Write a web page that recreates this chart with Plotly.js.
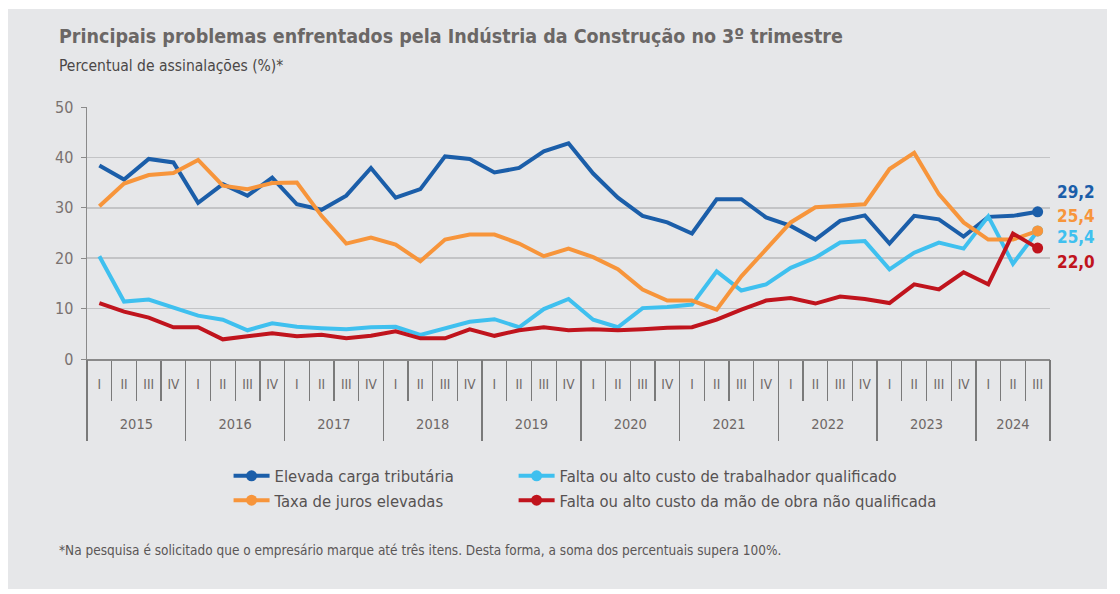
<!DOCTYPE html>
<html>
<head>
<meta charset="utf-8">
<script src="https://cdn.plot.ly/plotly-3.0.1.min.js"></script>
<style>
  html, body { margin: 0; padding: 0; background: #ffffff; width: 1120px; height: 594px; overflow: hidden; }
  #chart { position: absolute; left: 8px; top: 9px; width: 1099px; height: 580px; }
</style>
</head>
<body>
<div id="chart"></div>
<script>
// ---- data ----
const years = ['2015','2016','2017','2018','2019','2020','2021','2022','2023','2024'];
const quarters = ['I','II','III','IV'];
const nPoints = 39;

const seriesNames = [
  'Elevada carga tributária',
  'Falta ou alto custo de trabalhador qualificado',
  'Taxa de juros elevadas',
  'Falta ou alto custo da mão de obra não qualificada'
];

const cargaTributaria = [38.4, 35.6, 39.7, 39.0, 31.0, 34.7, 32.4, 36.0, 30.7, 29.6,
  32.4, 37.9, 32.0, 33.7, 40.2, 39.7, 37.0, 37.9, 41.2, 42.8,
  36.8, 32.0, 28.4, 27.1, 24.9, 31.7, 31.7, 28.1, 26.4, 23.7,
  27.4, 28.5, 22.9, 28.4, 27.7, 24.3, 28.2, 28.4, 29.2];

const trabalhadorQualificado = [20.4, 11.4, 11.8, 10.1, 8.6, 7.8, 5.7, 7.1, 6.4, 6.1,
  5.9, 6.3, 6.4, 4.8, 6.1, 7.4, 7.9, 6.3, 9.9, 11.9,
  7.8, 6.3, 10.1, 10.3, 10.8, 17.4, 13.6, 14.8, 18.1, 20.1,
  23.1, 23.4, 17.8, 21.1, 23.1, 21.9, 28.3, 18.9, 25.4];

const jurosElevados = [30.3, 34.8, 36.5, 36.9, 39.5, 34.4, 33.7, 34.9, 35.0, 28.4,
  22.9, 24.1, 22.7, 19.4, 23.7, 24.7, 24.7, 22.9, 20.4, 21.9,
  20.2, 17.8, 13.8, 11.6, 11.6, 9.8, 16.4, 21.7, 27.1, 30.1,
  30.4, 30.7, 37.7, 40.9, 32.7, 27.1, 23.7, 23.7, 25.4];

const maoDeObraNaoQualificada = [11.1, 9.4, 8.2, 6.3, 6.3, 3.9, 4.5, 5.1, 4.5, 4.8,
  4.1, 4.6, 5.5, 4.1, 4.1, 5.9, 4.6, 5.7, 6.3, 5.7,
  5.9, 5.7, 5.9, 6.2, 6.3, 7.8, 9.8, 11.6, 12.1, 11.0,
  12.4, 11.9, 11.1, 14.8, 13.8, 17.2, 14.8, 24.9, 22.0];

const seriesValues = [cargaTributaria, trabalhadorQualificado, jurosElevados, maoDeObraNaoQualificada];
const seriesColors = ['#1b5ea9', '#3fc0ef', '#f7953b', '#c0141d'];
const seriesLegend = ['legend', 'legend2', 'legend', 'legend2'];
const labelShift = [20, -6, 15, -14];

// ---- build categories ----
const xYear = [], xQuarter = [], xCat = [];
for (const yr of years) {
  for (const q of quarters) {
    if (xYear.length < nPoints) { xYear.push(yr); xQuarter.push(q); xCat.push(yr + ' ' + q); }
  }
}
const last = nPoints - 1;
const fmt = v => v.toFixed(1).replace('.', ',');

// year label positions (category index centres) and year boundaries
const yearCenters = [], yearBounds = [];
years.forEach(yr => {
  const idx = xYear.map((y, i) => y === yr ? i : -1).filter(i => i >= 0);
  if (idx.length) {
    yearCenters.push((idx[0] + idx[idx.length - 1]) / 2);
    yearBounds.push(idx[0] - 0.5);
  }
});
yearBounds.push(last + 0.5);

const FONT = '"DejaVu Sans Condensed", "Liberation Sans Narrow", sans-serif';

const traces = [];
const annotations = [];
seriesValues.forEach((vals, k) => {
  traces.push({
    type: 'scatter', mode: 'lines',
    x: xCat, y: vals,
    line: { color: seriesColors[k], width: 4 },
    showlegend: false, hoverinfo: 'skip'
  });
  // end-point dot (on the overlaying index axis) that also provides the legend entry
  traces.push({
    type: 'scatter', mode: 'lines+markers',
    xaxis: 'x2',
    x: [last], y: [vals[last]],
    name: seriesNames[k],
    legend: seriesLegend[k],
    line: { color: seriesColors[k], width: 4 },
    marker: { color: seriesColors[k], size: 11 },
    hoverinfo: 'skip'
  });
  annotations.push({
    xref: 'paper', x: 1, xanchor: 'left', xshift: 5,
    yref: 'y', y: vals[last], yanchor: 'middle', yshift: labelShift[k],
    text: '<b>' + fmt(vals[last]) + '</b>',
    showarrow: false,
    font: { family: FONT, size: 17, color: seriesColors[k] }
  });
});

annotations.push({
  xref: 'paper', yref: 'paper', x: -0.031, y: 1.278, xanchor: 'left', yanchor: 'middle',
  text: '<b>Principais problemas enfrentados pela Indústria da Construção no 3º trimestre</b>',
  showarrow: false, font: { family: FONT, size: 19.5, color: '#6b6766' }
});
annotations.push({
  xref: 'paper', yref: 'paper', x: -0.031, y: 1.163, xanchor: 'left', yanchor: 'middle',
  text: 'Percentual de assinalações (%)*',
  showarrow: false, font: { family: FONT, size: 15.5, color: '#4b4747' }
});
annotations.push({
  xref: 'paper', yref: 'paper', x: -0.031, y: -0.758, xanchor: 'left', yanchor: 'middle',
  text: '*Na pesquisa é solicitado que o empresário marque até três itens. Desta forma, a soma dos percentuais supera 100%.',
  showarrow: false, font: { family: FONT, size: 13.5, color: '#5a5656' }
});

const legendFont = { family: FONT, size: 16.5, color: '#565252' };

const layout = {
  width: 1099, height: 580,
  paper_bgcolor: '#e6e7e9', plot_bgcolor: '#e6e7e9',
  margin: { l: 78.6, r: 57, t: 98, b: 230 },
  showlegend: true,
  font: { family: FONT, color: '#6e6866' },
  xaxis: {
    type: 'category',
    range: [-0.5, last + 0.5],
    tickvals: xCat, ticktext: xQuarter,
    showline: true, linecolor: '#8a8a8a', linewidth: 1.5,
    ticks: 'outside', ticklen: 40, tickcolor: '#7a7a7a', tickwidth: 1.3,
    tickson: 'boundaries',
    ticklabelstandoff: 12,
    showgrid: false, zeroline: false,
    tickfont: { family: FONT, size: 13.5, color: '#6e6866' }
  },
  xaxis2: {
    type: 'linear', overlaying: 'x', anchor: 'y', side: 'bottom',
    range: [-0.5, last + 0.5],
    tickmode: 'array',
    tickvals: yearCenters, ticktext: years.slice(0, yearCenters.length),
    ticks: '', showline: false, showgrid: false, zeroline: false,
    ticklabelstandoff: 54,
    tickfont: { family: FONT, size: 14.5, color: '#6e6866' },
    minor: {
      tickmode: 'array', tickvals: yearBounds,
      ticks: 'outside', ticklen: 81, tickcolor: '#7a7a7a', tickwidth: 1.4,
      showgrid: false
    }
  },
  yaxis: {
    range: [0, 50], dtick: 10, tick0: 0,
    showline: true, linecolor: '#8a8a8a', linewidth: 1.5,
    ticks: 'outside', ticklen: 5, tickcolor: '#8a8a8a',
    ticklabelstandoff: 4,
    gridcolor: '#c3c4c6', gridwidth: 1.5,
    zeroline: false,
    tickfont: { family: FONT, size: 16, color: '#7a7270' }
  },
  legend: {
    x: 0.147, y: -0.395, xanchor: 'left', yanchor: 'top',
    orientation: 'v', bgcolor: 'rgba(0,0,0,0)',
    font: legendFont, tracegroupgap: 0, itemwidth: 36
  },
  legend2: {
    x: 0.443, y: -0.395, xanchor: 'left', yanchor: 'top',
    orientation: 'v', bgcolor: 'rgba(0,0,0,0)',
    font: legendFont, tracegroupgap: 0, itemwidth: 36
  },
  annotations: annotations
};

Plotly.newPlot('chart', traces, layout, { displayModeBar: false, staticPlot: true });
</script>
</body>
</html>
